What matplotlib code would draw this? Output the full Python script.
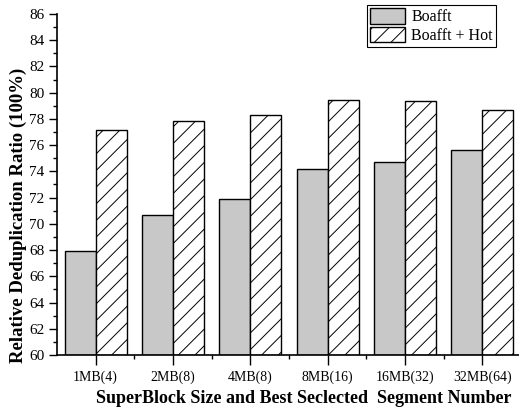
import matplotlib
matplotlib.use("Agg")
import matplotlib.pyplot as plt
import numpy as np

plt.rcParams["font.family"] = ["Liberation Serif", "DejaVu Serif"]
plt.rcParams["hatch.linewidth"] = 0.7

# superblock size (best selected segment count)
categories = ["1MB(4)", "2MB(8)", "4MB(8)", "8MB(16)", "16MB(32)", "32MB(64)"]
boafft = [67.9, 70.7, 71.9, 74.2, 74.7, 75.65]
boafft_hot = [77.15, 77.85, 78.3, 79.45, 79.4, 78.65]

fig = plt.figure(figsize=(5.19, 4.11), dpi=100)
ax = fig.add_axes([0.1098, 0.1363, 0.894, 0.8297])

x = np.arange(len(categories))
w = 0.4
ax.bar(x - w / 2, [v - 60 for v in boafft], w, bottom=60, color="#c8c8c8",
       edgecolor="black", linewidth=1.0, label="Boafft")
ax.bar(x + w / 2, [v - 60 for v in boafft_hot], w, bottom=60, color="white",
       edgecolor="black", linewidth=1.0, hatch="//", label="Boafft + Hot")

ax.set_xlim(-0.5, 5.5)
ax.set_ylim(60, 86)
ax.set_yticks(np.arange(60, 87, 2))
ax.set_yticks(np.arange(61, 86, 2), minor=True)
ax.set_xticks(x)
ax.set_xticks(x[:-1] + 0.5, minor=True)
ax.set_xticklabels(categories)

ax.spines["top"].set_visible(False)
ax.spines["right"].set_visible(False)
for s in ("left", "bottom"):
    ax.spines[s].set_linewidth(1.2)
ax.tick_params(which="major", direction="out", width=1.0)
ax.tick_params(which="minor", direction="out", length=3, width=1.0)
ax.tick_params(axis="y", which="major", length=6, pad=3, labelsize=11)
ax.tick_params(axis="x", which="major", length=7, pad=4, labelsize=10)

ax.set_ylabel("Relative Deduplication Ratio (100%)", fontsize=13.5,
              fontweight="bold", va="center", ha="center")
ax.yaxis.set_label_coords(-0.083, 0.41)
ax.set_xlabel("SuperBlock Size and Best Seclected  Segment Number",
              fontsize=13, fontweight="bold", va="center", ha="center")
ax.xaxis.set_label_coords(0.532, -0.129)

leg = ax.legend(loc="upper right", bbox_to_anchor=(0.9557, 0.9878),
                bbox_transform=fig.transFigure, borderaxespad=0,
                fontsize=11.5, fancybox=False, framealpha=1,
                edgecolor="black", handlelength=2.2, handleheight=1.1,
                handletextpad=0.4, borderpad=0.2, labelspacing=0.1)
leg.get_frame().set_linewidth(0.8)

fig.savefig("out.png", dpi=100)
